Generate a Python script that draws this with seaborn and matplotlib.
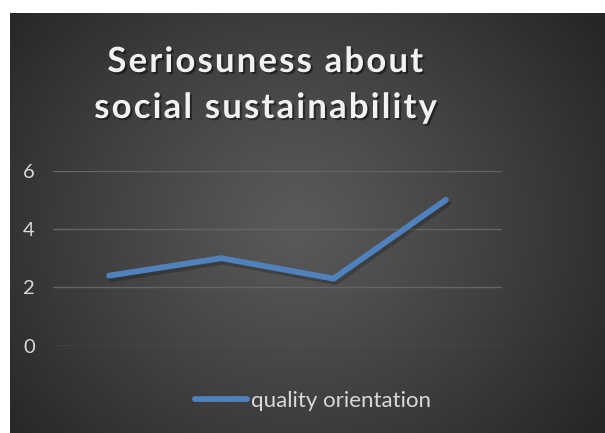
import numpy as np
import pandas as pd
import matplotlib
matplotlib.use("Agg")
import matplotlib.pyplot as plt
import matplotlib.patheffects as pe
from matplotlib.lines import Line2D
import seaborn as sns

# ---- data ----
categories = [1, 2, 3, 4]
values = [2.4, 3.0, 2.3, 5.0]
series_name = "quality orientation"
y_ticks = [0, 2, 4, 6]
title_lines = ["Seriosuness about", "social sustainability"]

df = pd.DataFrame({"category": categories, "value": values, "series": series_name})

sns.set_theme(style="dark")
plt.rcParams["font.family"] = ["Lato", "DejaVu Sans"]

W, H = 605, 433
fig = plt.figure(figsize=(W / 100, H / 100), dpi=100, facecolor="white")

# background panel with radial gradient
bg_left, bg_top = 10 / W, 13 / H
bg = fig.add_axes([bg_left, 0, 1 - bg_left, 1 - bg_top])
bg.set_axis_off()
ny, nx = 300, 420
yy, xx = np.mgrid[0:ny, 0:nx]
cx, cy = nx * 0.48, ny * 0.5
r = np.sqrt(((xx - cx) / (nx * 0.62)) ** 2 + ((yy - cy) / (ny * 0.8)) ** 2)
r = np.clip(r, 0, 1)
c_in, c_out = 0x5a / 255, 0x27 / 255
img = c_in + (c_out - c_in) * r ** 1.1
bg.imshow(np.dstack([img, img, img]), aspect="auto", extent=[0, 1, 0, 1], origin="upper")
bg.set_xlim(0, 1)
bg.set_ylim(0, 1)

# main axes
left, right = 53 / W, 502 / W
top, bottom = 1 - 170.7 / H, 1 - 345.7 / H
ax = fig.add_axes([left, bottom, right - left, top - bottom])
ax.patch.set_alpha(0)
line_color = "#4f81bd"
sns.lineplot(data=df, x="category", y="value", hue="series", palette=[line_color],
             linewidth=4.2, ax=ax, legend=False)
ln = ax.lines[0]
ln.set_solid_capstyle("round")
ln.set_solid_joinstyle("miter")
ln.set_path_effects([pe.SimpleLineShadow(offset=(1.5, -2.5), shadow_color="black", alpha=0.22, rho=0.3),
                     pe.Normal()])

ax.set_xlim(categories[0] - 0.5, categories[-1] + 0.5)
ax.set_ylim(y_ticks[0], y_ticks[-1])
ax.set_yticks(y_ticks)
ax.set_xticks([])
ax.yaxis.grid(True, color="#646464", linewidth=1.0)
ax.xaxis.grid(False)
for s in ax.spines.values():
    s.set_visible(False)
ax.tick_params(axis="y", colors="#d9d9d9", labelsize=14.5, length=0, pad=13)
ax.set_xlabel("")
ax.set_ylabel("")

# title with letter spacing (hair spaces between characters)
HS = "\u200a"
for txt, yc in zip(title_lines, [62, 108]):
    spaced = HS.join(list(txt))
    fig.text(265 / W, 1 - yc / H, spaced, ha="center", va="center", color="#f2f2f2",
             fontsize=25, fontweight="bold",
             path_effects=[pe.withSimplePatchShadow(offset=(1.5, -1.5), shadow_rgbFace="black", alpha=0.45)])

# legend
handle = Line2D([0], [0], color=line_color, linewidth=4.2, solid_capstyle="round")
leg = fig.legend([handle], [series_name], loc="center", bbox_to_anchor=(313 / W, 1 - 401 / H),
                 frameon=False, fontsize=16, handlelength=2.35, handletextpad=0.15,
                 labelcolor="#d9d9d9")

fig.savefig("out.png", dpi=100, facecolor="white")
